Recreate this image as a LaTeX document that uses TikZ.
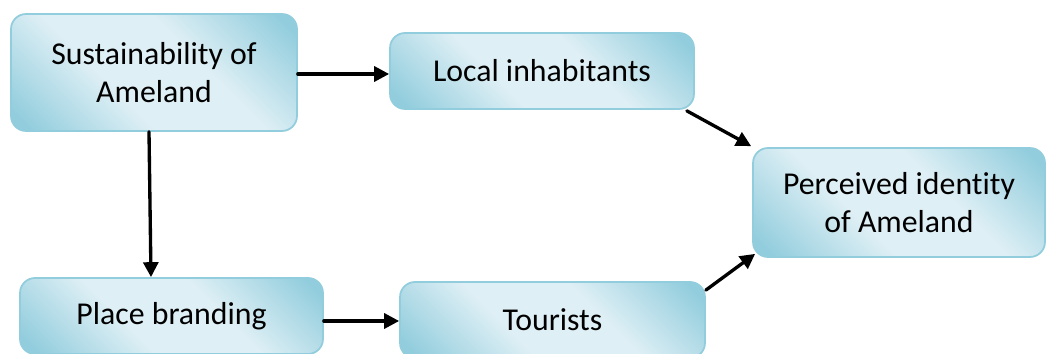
\documentclass[tikz,border=0pt]{standalone}
\usepackage{fontspec}
\setmainfont[Ligatures=NoCommon]{Carlito}
\usetikzlibrary{arrows.meta,positioning}
\definecolor{boxdark}{RGB}{146,205,221}
\definecolor{boxlight}{RGB}{222,239,245}
\pgfdeclareverticalshading{boxshade}{100bp}{color(0bp)=(boxdark); color(18bp)=(boxdark);
  color(40bp)=(boxlight); color(60bp)=(boxlight); color(82bp)=(boxdark); color(100bp)=(boxdark)}

\begin{document}
\begin{tikzpicture}[x=0.02cm,y=-0.02cm,line cap=round,line join=round,
  box/.style={draw=boxdark,line width=1pt,rounded corners=0.3cm,
    shading=boxshade,shading angle=-45,
    align=center,inner sep=0pt,font=\fontsize{18.1}{21.5}\selectfont},
  link/.style={-{Triangle[length=8.5pt,width=8.5pt]},line width=1.9pt}]
\useasboundingbox (0,0) rectangle (1046,354);
% boxes
\node[box,minimum width=5.72cm,minimum height=2.34cm] (sust) at (154,72.5) {Sustainability of\\Ameland};
\node[box,minimum width=6.08cm,minimum height=1.52cm] (local) at (542,71) {Local inhabitants};
\node[box,minimum width=5.84cm,minimum height=2.18cm] (ident) at (899,202.5) {Perceived identity\\of Ameland};
\node[box,minimum width=6.06cm,minimum height=1.52cm] (brand) at (171.5,316) {Place branding};
\node[box,minimum width=6.10cm,minimum height=1.52cm] (tour) at (552.5,320) {Tourists};
% arrows
\draw[link] ([yshift=-0.03cm]sust.east) -- ([yshift=-0.03cm]sust.east -| local.west);
\draw[link] ([xshift=-0.1cm]sust.south) -- ([xshift=-0.06cm]sust.south |- brand.north);
\draw[link] ([yshift=-0.1cm]brand.east) -- ([yshift=-0.1cm]brand.east -| tour.west);
\draw[link] ([xshift=-0.16cm,yshift=-0.02cm]local.south east) -- ([xshift=-0.02cm,yshift=0.02cm]ident.north west);
\draw[link] ([yshift=-0.18cm]tour.north east) -- ([xshift=0.06cm,yshift=0.08cm]ident.south west);
\end{tikzpicture}
\end{document}
